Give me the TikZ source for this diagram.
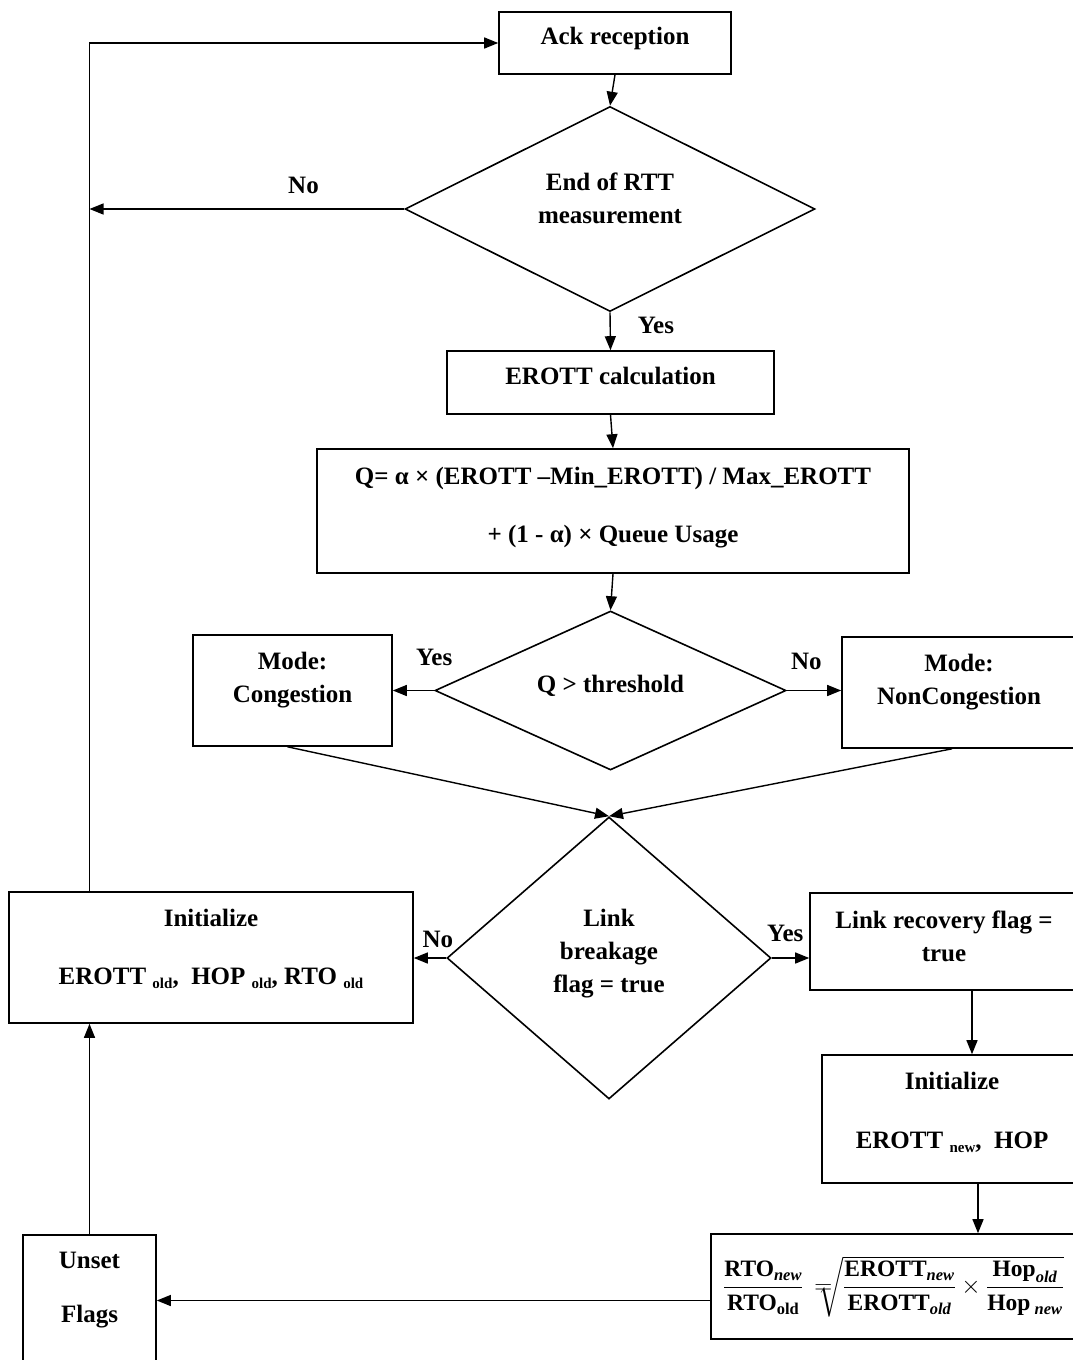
\documentclass[tikz,border=0pt]{standalone}
\usepackage{fontspec}
\setmainfont{Liberation Serif}
\usepackage{amsmath}
\usetikzlibrary{shapes.geometric,arrows.meta,calc}
\newcommand\sbs[1]{\raisebox{-4pt}{\fontsize{15}{15}\selectfont #1}}
\newcommand\bt[1]{\text{\bfseries #1}}
\newcommand\bi[1]{\text{\bfseries\itshape #1}}
\begin{document}
\begin{tikzpicture}[x=1pt,y=-1pt,
  box/.style={draw,line width=1.6pt,rectangle,inner sep=0pt},
  dia/.style={draw,line width=1.6pt,diamond,inner sep=0pt,aspect=2},
  txt/.style={font=\bfseries\fontsize{25}{33}\selectfont,align=center,inner sep=0pt},
  oneline/.style={text height=17pt,text depth=14pt},
  lbl/.style={font=\bfseries\fontsize{25}{30}\selectfont,inner sep=0pt},
  arr/.style={line width=1.4pt,-{Triangle[length=14pt,width=11pt]}},
]
\useasboundingbox (0,0) rectangle (1073,1360);

% shapes
\node[box,txt,oneline,minimum width=232pt,minimum height=62pt] (ack) at (615,43) {Ack reception};
\node[dia,minimum width=410pt,minimum height=205pt] (endrtt) at (610,209) {};
\node[box,txt,oneline,minimum width=327pt,minimum height=63pt] (erott) at (610.5,382.5) {EROTT calculation};
\node[box,minimum width=592pt,minimum height=124pt] (qbox) at (613,511) {};
\node[dia,txt,oneline,minimum width=351pt,minimum height=159pt] (qth) at (610.5,690.5) {Q > threshold};
\node[box,minimum width=199pt,minimum height=111pt] (cong) at (292.5,690.5) {};
\node[box,minimum width=234pt,minimum height=111pt] (noncong) at (959,692.5) {};
\node[dia,minimum width=324pt,minimum height=282pt] (link) at (609,958) {};
\node[box,minimum width=404pt,minimum height=131pt] (initold) at (211,957.5) {};
\node[box,minimum width=266pt,minimum height=97pt] (recov) at (943,941.5) {};
\node[box,minimum width=254pt,minimum height=128pt] (initnew) at (949,1119) {};
\node[box,minimum width=365pt,minimum height=105pt,font=\fontsize{23.5}{28}\selectfont] (formula) at (893.5,1286.5)
  {$\dfrac{\bt{RTO}_{\bi{new}}}{\bt{RTO}_{\bt{old}}}\,=\mkern-15mu\sqrt{\dfrac{\bt{EROTT}_{\bi{new}}}{\bt{EROTT}_{\bi{old}}}\times\dfrac{\bt{Hop}_{\bi{old}}}{\bt{Hop}\,_{\bi{new}}}}$};
\node[box,minimum width=133pt,minimum height=131pt] (unset) at (89.5,1300.5) {};

% texts
\node[txt] (endrttT) at ($(endrtt)+(0,-11)$) {End of RTT\\measurement};
\node[txt] (qboxT) at ($(qbox)+(0,-3)$) {Q= α × (EROTT –Min\_EROTT) / Max\_EROTT\\[25pt]+ (1 - α) × Queue Usage};
\node[txt] (congT) at ($(cong)+(0,-10.5)$) {Mode:\\Congestion};
\node[txt] (noncongT) at ($(noncong)+(0,-10.5)$) {Mode:\\NonCongestion};
\node[txt] (linkT) at ($(link)+(0,-4.5)$) {Link\\breakage\\flag = true};
\node[txt] (initoldT) at ($(initold)+(0,-8.5)$) {Initialize\\[25pt]EROTT \sbs{old},\ \ HOP \sbs{old}, RTO \sbs{old}};
\node[txt] (recovT) at ($(recov)+(1,-5.5)$) {Link recovery flag =\\true};
\node[txt] (initnewT) at ($(initnew)+(3,-7)$) {Initialize\\[26pt]EROTT \sbs{new},\ \ HOP};
\node[txt] (unsetT) at ($(unset)+(0,-10.5)$) {Unset\\[21pt]Flags};

% connectors
\draw[arr] (ack.south) -- (endrtt.north);
\draw[arr] (endrtt.west) -- (endrtt.west -| unset.north) node[lbl,pos=0.32,above=15pt] {No};
\draw[arr] (unset.north |- initold.north) |- (ack.west);
\draw[arr] (endrtt.south) -- (erott.north) node[lbl,pos=0.34,anchor=west,xshift=27pt] {Yes};
\draw[arr] (erott.south) -- (qbox.north);
\draw[arr] (qbox.south) -- (qth.north);
\draw[arr] (qth.west) -- (cong.east) node[lbl,pos=0,above=24pt] {Yes};
\draw[arr] (qth.east) -- (qth.east -| noncong.west) node[lbl,pos=0.36,above=20pt] {No};
\draw[arr] ($(cong.south)+(-5,0)$) -- (link.north);
\draw[arr] ($(noncong.south)+(-7,0)$) -- (link.north);
\draw[arr] (link.west) -- (link.west -| initold.east) node[lbl,pos=0.26,above=10pt] {No};
\draw[arr] (link.east) -- (link.east -| recov.west) node[lbl,pos=0.36,above=16pt] {Yes};
\draw[arr] ($(recov.south)+(29,0)$) -- ($(initnew.north)+(23,0)$);
\draw[arr] ($(initnew.south)+(29,0)$) -- ($(formula.north)+(84.5,0)$);
\draw[arr] (formula.west |- unset.east) -- (unset.east);
\draw[arr] (unset.north) -- (unset.north |- initold.south);
\end{tikzpicture}
\end{document}
